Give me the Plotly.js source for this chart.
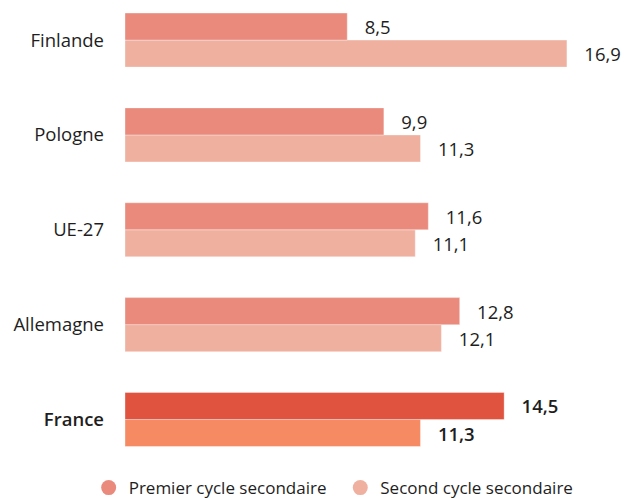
<!DOCTYPE html>
<html>
<head>
<meta charset="utf-8">
<script src="https://cdn.plot.ly/plotly-3.0.1.min.js"></script>
<style>html,body{margin:0;padding:0;background:#fff;}#chart{width:626px;height:498px;}</style>
</head>
<body>
<div id="chart"></div>
<script>
// Data
const countries = ["France", "Allemagne", "UE-27", "Pologne", "Finlande"];
const premierCycle = [14.5, 12.8, 11.6, 9.9, 8.5];
const secondCycle = [11.3, 12.1, 11.1, 11.3, 16.9];
const seriesNames = ["Premier cycle secondaire", "Second cycle secondaire"];
const highlight = "France";

const colPremier = "#EA8A7D", colPremierHi = "#E0533F";
const colSecond = "#EFB09F", colSecondHi = "#F68B63";

const isHi = countries.map(c => c === highlight);
const font = "Open Sans, sans-serif";
const pad = "\u00a0\u00a0\u00a0";
const semi = s => "<span style='font-weight:600'>" + s + "</span>";
const fmt = v => v.toFixed(1).replace(".", ",");

function barTrace(vals, col, colHi, offsetgroup) {
  return {
    type: "bar", orientation: "h",
    y: countries, x: vals,
    offsetgroup: offsetgroup,
    marker: {color: isHi.map(h => h ? colHi : col), line: {color: "rgba(255,255,255,0.35)", width: 1}},
    text: vals.map((v, i) => pad + (isHi[i] ? semi(fmt(v)) : fmt(v))),
    texttemplate: "%{text}",
    textposition: "outside",
    constraintext: "none",
    cliponaxis: false,
    textfont: {family: font, size: 18.5, color: "#1e1e1e"},
    showlegend: false,
    hoverinfo: "skip"
  };
}

const data = [
  barTrace(secondCycle, colSecond, colSecondHi, "b"),
  barTrace(premierCycle, colPremier, colPremierHi, "a"),
  {type: "scatter", mode: "markers", x: [null], y: [null], name: seriesNames[0] + "\u00a0\u00a0",
   marker: {symbol: "circle", size: 15, color: colPremier}},
  {type: "scatter", mode: "markers", x: [null], y: [null], name: seriesNames[1],
   marker: {symbol: "circle", size: 15, color: colSecond}}
];

const layout = {
  width: 626, height: 498,
  margin: {l: 125, r: 0, t: 10, b: 38},
  paper_bgcolor: "#fff", plot_bgcolor: "#fff",
  font: {family: font, size: 17, color: "#1e1e1e"},
  barmode: "group", bargap: 0.43, bargroupgap: 0,
  xaxis: {range: [0, 19.16], visible: false, fixedrange: true},
  yaxis: {
    type: "category", range: [-0.427, 4.317],
    tickvals: countries,
    ticktext: countries.map(c => c === highlight ? semi(c) : c),
    showgrid: false, zeroline: false, showline: false, ticks: "",
    ticklabelstandoff: 20,
    tickfont: {family: font, size: 18.5, color: "#1e1e1e"}
  },
  showlegend: true,
  legend: {
    orientation: "h", xref: "container", yref: "container",
    x: 0.533, xanchor: "center", y: 0.02, yanchor: "middle",
    font: {family: font, size: 17, color: "#1e1e1e"},
    itemsizing: "trace", itemwidth: 30, traceorder: "normal",
    tracegroupgap: 0
  }
};

Plotly.newPlot("chart", data, layout, {displayModeBar: false, staticPlot: true});
</script>
</body>
</html>
